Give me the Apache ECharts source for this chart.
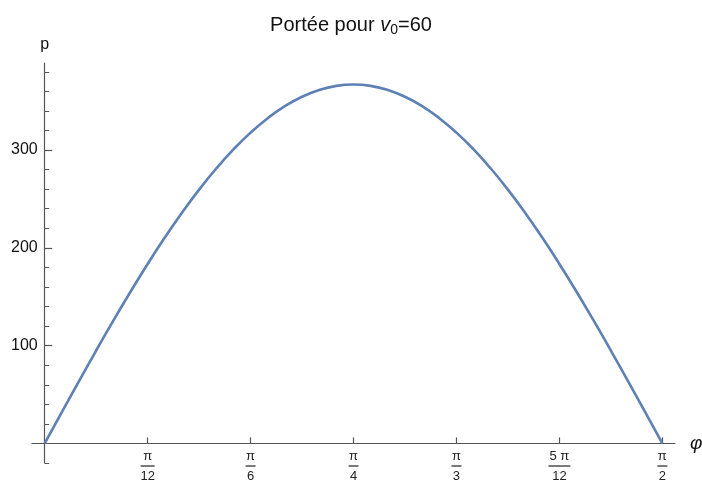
<!DOCTYPE html>
<html>
<head>
<meta charset="utf-8">
<script src="https://cdn.jsdelivr.net/npm/echarts@6/dist/echarts.min.js"></script>
<style>html,body{margin:0;padding:0;background:#fff}#c{width:702px;height:481px}</style>
</head>
<body>
<div id="c"></div>
<script>
// angle φ (radians), steps of π/72
var phi = [0, 0.0436, 0.0873, 0.1309, 0.1745, 0.2182, 0.2618, 0.3054, 0.3491, 0.3927, 0.4363, 0.4800, 0.5236,
           0.5672, 0.6109, 0.6545, 0.6981, 0.7418, 0.7854, 0.8290, 0.8727, 0.9163, 0.9599, 1.0036, 1.0472,
           1.0908, 1.1345, 1.1781, 1.2217, 1.2654, 1.3090, 1.3526, 1.3963, 1.4399, 1.4835, 1.5272, 1.5708];
// range p
var range = [0, 32.0, 63.7, 95.0, 125.5, 155.1, 183.5, 210.5, 235.9, 259.5, 281.1, 300.6, 317.8,
             332.6, 344.9, 354.5, 361.4, 365.6, 367.0, 365.6, 361.4, 354.5, 344.9, 332.6, 317.8,
             300.6, 281.1, 259.5, 235.9, 210.5, 183.5, 155.1, 125.5, 95.0, 63.7, 32.0, 0];
// x tick positions and labels (fractions of π)
var xTicks = [0.2618, 0.5236, 0.7854, 1.0472, 1.3090, 1.5708];
var xNum = ['π', 'π', 'π', 'π', '5 π', 'π'];
var xDen = ['12', '6', '4', '3', '12', '2'];
// y ticks
var yMajor = [100, 200, 300];
var yMinor = [-20, 0, 20, 40, 60, 80, 100, 120, 140, 160, 180, 200, 220, 240, 260, 280, 300, 320, 340, 360, 380];

var FONT = '"Liberation Sans", Arial, sans-serif';
var axisCol = '#555';
var data = phi.map(function (p, i) { return [p, range[i]]; });

function fracLabel(v) {
  var best = 0, bd = 1e9;
  for (var i = 0; i < xTicks.length; i++) { var d = Math.abs(xTicks[i] - v); if (d < bd) { bd = d; best = i; } }
  var bar = xNum[best].length > 1 ? 'bw' : (xDen[best].length > 1 ? 'bm' : 'bn');
  return '{n|' + xNum[best] + '}\n{' + bar + '| }\n{d|' + xDen[best] + '}';
}
var barStyle = function (w) { return { width: w, height: 1.2, lineHeight: 6, fontSize: 1, backgroundColor: '#222', align: 'center' }; };

var chart = echarts.init(document.getElementById('c'), null, { renderer: 'canvas' });
chart.setOption({
  animation: false,
  backgroundColor: '#fff',
  title: {
    text: '{a|Portée pour }{i|v}{s|0}{a|=60}',
    left: 'center', top: 9,
    textStyle: {
      fontWeight: 'normal',
      rich: {
        a: { fontFamily: FONT, fontSize: 20, fontWeight: 'normal', color: '#111' },
        i: { fontFamily: FONT, fontSize: 20, fontWeight: 'normal', fontStyle: 'italic', color: '#111' },
        s: { fontFamily: FONT, fontSize: 14, fontWeight: 'normal', color: '#111', padding: [9, 0, 0, 0] }
      }
    }
  },
  grid: { left: 32, right: 27, top: 63, bottom: 18, containLabel: false, outerBoundsMode: 'none' },
  xAxis: {
    type: 'value', min: -0.0323, max: 1.603,
    name: 'φ', nameLocation: 'end', nameGap: 15,
    nameTextStyle: { fontFamily: FONT, fontSize: 19, fontStyle: 'italic', color: '#111', verticalAlign: 'middle' },
    axisLine: { show: true, onZero: true, lineStyle: { color: axisCol, width: 1.2 } },
    axisTick: { show: true, inside: true, length: 6, customValues: xTicks, lineStyle: { color: axisCol, width: 1.2 } },
    axisLabel: {
      show: true, margin: -14, customValues: xTicks, formatter: fracLabel,
      rich: {
        n: { fontFamily: FONT, fontSize: 13, color: '#222', lineHeight: 14, align: 'center' },
        d: { fontFamily: FONT, fontSize: 13, color: '#222', lineHeight: 14, align: 'center' },
        bn: barStyle(10), bm: barStyle(14), bw: barStyle(22)
      }
    },
    splitLine: { show: false }
  },
  yAxis: [{
    type: 'value', min: -20, max: 389, interval: 20,
    name: 'p', nameLocation: 'end', nameGap: 10,
    nameTextStyle: { fontFamily: FONT, fontSize: 16, color: '#111', align: 'center' },
    axisLine: { show: true, onZero: true, lineStyle: { color: axisCol, width: 1.2 } },
    axisTick: { show: true, inside: true, length: 4.5, customValues: yMinor, lineStyle: { color: axisCol, width: 1 } },
    axisLabel: { show: false },
    splitLine: { show: false }
  }, {
    type: 'value', min: -20, max: 389, position: 'left', offset: -12.7,
    axisLine: { show: false, onZero: false },
    axisTick: { show: true, inside: true, length: 7.5, customValues: yMajor, lineStyle: { color: axisCol, width: 1.2 } },
    axisLabel: { show: true, customValues: yMajor, margin: 7, fontFamily: FONT, fontSize: 16, color: '#111' },
    splitLine: { show: false }
  }],
  series: [{
    type: 'line', data: data, smooth: true, showSymbol: false, yAxisIndex: 0,
    lineStyle: { color: '#5E81B5', width: 2.6 }
  }]
});
</script>
</body>
</html>
